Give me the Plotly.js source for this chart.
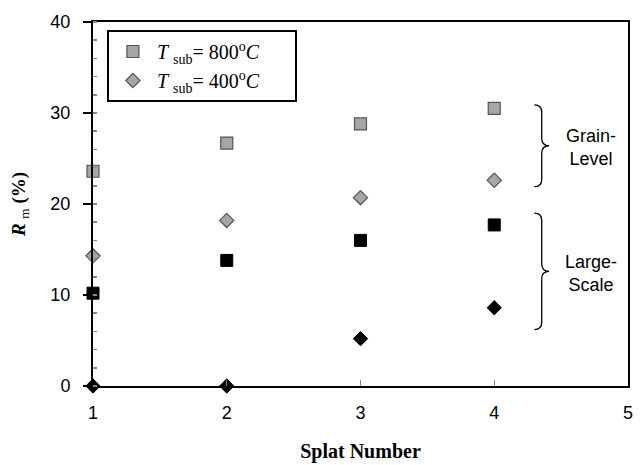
<!DOCTYPE html>
<html><head><meta charset="utf-8">
<script src="https://cdn.plot.ly/plotly-3.0.1.min.js"></script>
<style>html,body{margin:0;padding:0;background:#fff;}</style>
</head><body>
<div id="chart" style="width:641px;height:465px;"></div>
<script>
const splatNumbers = [1, 2, 3, 4];
const grain800 = [23.6, 26.7, 28.8, 30.5];
const grain400 = [14.3, 18.2, 20.7, 22.6];
const large800 = [10.2, 13.8, 16.0, 17.7];
const large400 = [0, 0, 5.2, 8.6];
const xTicks = [1, 2, 3, 4, 5];
const yTicks = [0, 10, 20, 30, 40];
const legend800 = "<i>T</i> <sub>sub</sub>= 800<sup>o</sup><i>C</i>&nbsp;&nbsp;&nbsp;&nbsp;&nbsp;&nbsp;";
const legend400 = "<i>T</i> <sub>sub</sub>= 400<sup>o</sup><i>C</i>&nbsp;&nbsp;&nbsp;&nbsp;&nbsp;&nbsp;";
const groupLabels = ["Grain-<br>Level", "Large-<br>Scale"];

function brace(ytop, ybot, x0, x1, x2) {
  const ym = (ytop + ybot) / 2, d = 0.8;
  return `M ${x0},${ytop} Q ${x1},${ytop} ${x1},${ytop - d} L ${x1},${ym + d} Q ${x1},${ym} ${x2},${ym} ` +
         `Q ${x1},${ym} ${x1},${ym - d} L ${x1},${ybot + d} Q ${x1},${ybot} ${x0},${ybot}`;
}

const traces = [
  {x: splatNumbers, y: grain800, mode: 'markers', name: legend800, cliponaxis: false,
   marker: {symbol: 'square', size: 12, color: '#a6a6a6', line: {color: '#555', width: 1.2}}},
  {x: splatNumbers, y: grain400, mode: 'markers', name: legend400, cliponaxis: false,
   marker: {symbol: 'diamond', size: 11, color: '#a6a6a6', line: {color: '#555', width: 1.2}}},
  {x: splatNumbers, y: large800, mode: 'markers', showlegend: false, cliponaxis: false,
   marker: {symbol: 'square', size: 12, color: '#000', line: {color: '#000', width: 1}}},
  {x: splatNumbers, y: large400, mode: 'markers', showlegend: false, cliponaxis: false,
   marker: {symbol: 'diamond', size: 11, color: '#000', line: {color: '#000', width: 1}}}
];

const layout = {
  width: 641, height: 465,
  margin: {l: 93, r: 13, t: 22, b: 79},
  paper_bgcolor: '#fff', plot_bgcolor: '#fff',
  font: {family: 'Liberation Sans, Arial, sans-serif', size: 18, color: '#000'},
  xaxis: {range: [1, 5], tickvals: xTicks, ticktext: xTicks.map(String),
    showgrid: false, zeroline: false, showline: true, linecolor: '#000', linewidth: 2, mirror: true,
    ticks: 'inside', ticklen: 6, tickcolor: '#888', tickwidth: 1, ticklabelstandoff: 9,
    title: {text: '<b>Splat Number</b>', font: {family: 'Liberation Serif, Times New Roman, serif', size: 20}, standoff: 22}},
  yaxis: {range: [0, 40], tickvals: yTicks, ticktext: yTicks.map(String),
    showgrid: false, zeroline: false, showline: true, linecolor: '#000', linewidth: 2, mirror: true,
    ticks: 'outside', ticklen: 8, tickcolor: '#000', tickwidth: 1.5, ticklabelstandoff: 9,
    minor: {dtick: 2, ticks: 'inside', ticklen: 4, tickcolor: '#888'},
    title: {text: '<b><i>R</i></b> <sub>m</sub><b> (%)</b>', font: {family: 'Liberation Serif, Times New Roman, serif', size: 19}, standoff: 20}},
  legend: {x: 0.026, y: 0.978, xanchor: 'left', yanchor: 'top', bgcolor: '#fff',
    bordercolor: '#000', borderwidth: 2,
    font: {family: 'Liberation Serif, Times New Roman, serif', size: 20, color: '#000'},
    itemwidth: 38},
  shapes: [
    {type: 'path', xref: 'x', yref: 'y', path: brace(30.9, 21.9, 4.30, 4.355, 4.41), line: {color: '#000', width: 1.3}},
    {type: 'path', xref: 'x', yref: 'y', path: brace(19.0, 6.2, 4.30, 4.355, 4.41), line: {color: '#000', width: 1.3}}
  ],
  annotations: [
    {x: 4.72, y: 26.2, xref: 'x', yref: 'y', text: groupLabels[0], showarrow: false, font: {size: 18}, align: 'center'},
    {x: 4.72, y: 12.4, xref: 'x', yref: 'y', text: groupLabels[1], showarrow: false, font: {size: 18}, align: 'center'}
  ]
};

Plotly.newPlot('chart', traces, layout, {displayModeBar: false, staticPlot: true});
</script>
</body></html>
